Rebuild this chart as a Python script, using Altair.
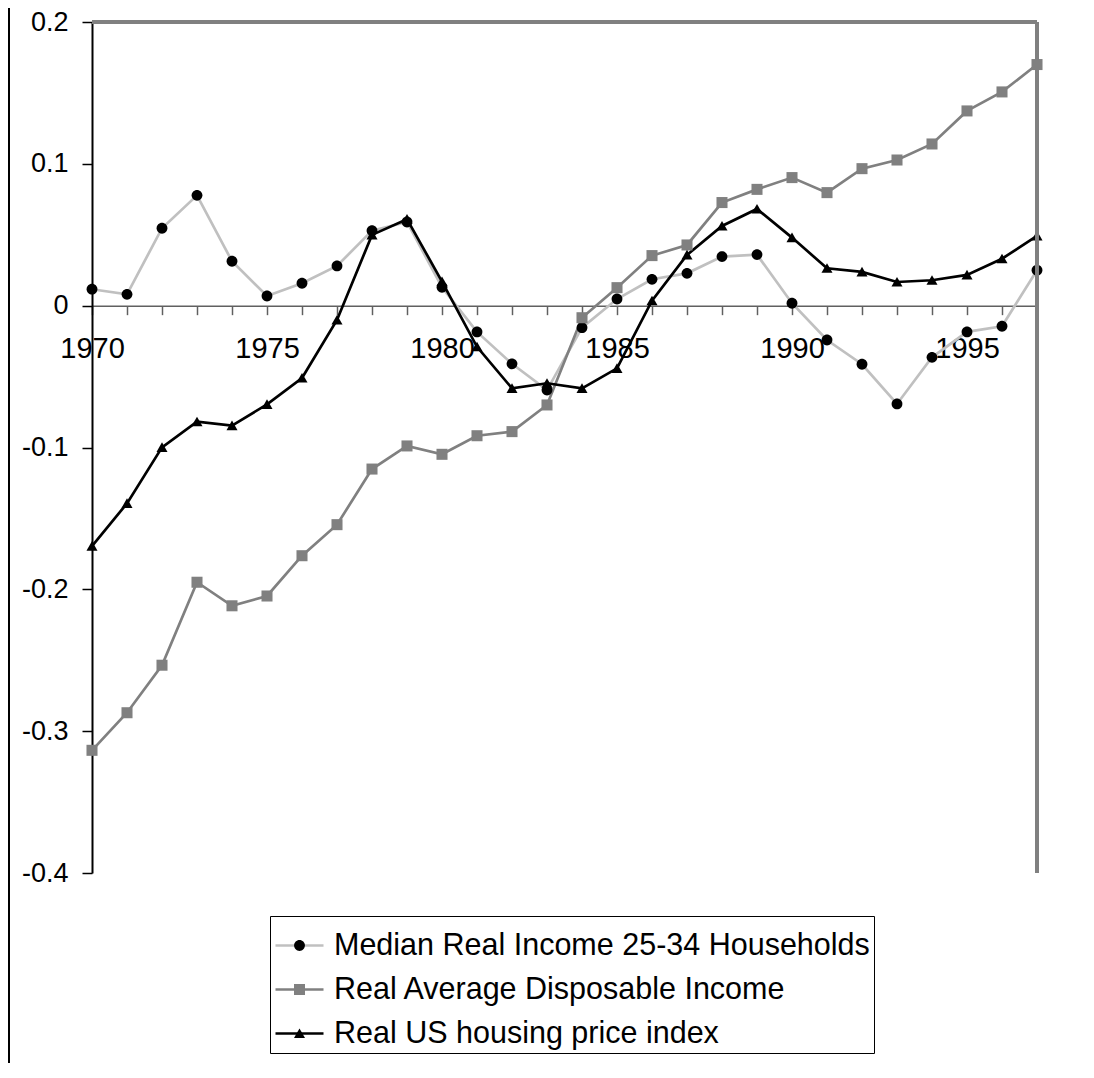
import altair as alt
import pandas as pd

# ---- data ----
years = list(range(1970, 1998))
series_names = [
    "Median Real Income 25-34 Households",
    "Real Average Disposable Income",
    "Real US housing price index",
]
median_income = [0.0116, 0.008, 0.0546, 0.0778, 0.0313, 0.0068, 0.0158, 0.028,
                 0.0529, 0.059, 0.013, -0.0185, -0.041, -0.0595, -0.0155, 0.0047,
                 0.0186, 0.0228, 0.0346, 0.036, 0.0017, -0.0242, -0.0413, -0.0693,
                 -0.0364, -0.0185, -0.0145, 0.025]
disposable_income = [-0.3135, -0.287, -0.2535, -0.195, -0.2116, -0.2047, -0.1763,
                     -0.1544, -0.1152, -0.0989, -0.1048, -0.0917, -0.0888, -0.070,
                     -0.0085, 0.0127, 0.0353, 0.0428, 0.0727, 0.082, 0.0903, 0.0797,
                     0.0966, 0.1027, 0.114, 0.1373, 0.1507, 0.170]
housing_index = [-0.1695, -0.1394, -0.0999, -0.0818, -0.0846, -0.0696, -0.051,
                 -0.0101, 0.0499, 0.061, 0.017, -0.029, -0.0583, -0.0547, -0.0583,
                 -0.0442, 0.0035, 0.0358, 0.0562, 0.0682, 0.048, 0.0264, 0.0238,
                 0.0167, 0.0179, 0.0217, 0.0331, 0.0492]
y_ticks = [-0.4, -0.3, -0.2, -0.1, 0.0, 0.1, 0.2]

rows = []
for name, vals in zip(series_names, [median_income, disposable_income, housing_index]):
    for yr, v in zip(years, vals):
        rows.append({"year": yr, "value": v, "series": name})
df = pd.DataFrame(rows)

# ---- styling ----
W, H = 945, 851
Y_MIN, Y_MAX = -0.4, 0.2
zero_offset = -H * (0 - Y_MIN) / (Y_MAX - Y_MIN)   # move x axis up to the zero line
FONT = "Liberation Sans"
line_colors = ["#c0c0c0", "#808080", "#000000"]
marker_fills = ["#000000", "#808080", "#000000"]
SYM = 2304  # symbol size shared by markers and legend symbols (48 px unit box)
marker_paths = [
    "M0.225,0A0.225,0.225,0,1,1,-0.225,0A0.225,0.225,0,1,1,0.225,0Z",
    "M-0.23,-0.23H0.23V0.23H-0.23Z",
    "M0,-0.21L0.23,0.19H-0.23Z",
]

x_scale = alt.Scale(domain=[1970, 1997], nice=False, zero=False)
y_scale = alt.Scale(domain=[Y_MIN, Y_MAX], nice=False, zero=False)

x_axis = alt.Axis(
    values=years, title=None, grid=False, offset=zero_offset,
    labelExpr="datum.value % 5 == 0 ? '' + datum.value : ''",
    labelFont=FONT, labelFontSize=29, labelColor="black",
    labelPadding=20, labelFlush=False, labelOverlap=False, labelBound=False,
    tickSize=9, tickColor="#606060", tickWidth=1.5,
    domainColor="#606060", domainWidth=1.5,
)
y_axis = alt.Axis(
    values=y_ticks, title=None, grid=False,
    labelExpr="'' + round(datum.value * 10) / 10",
    labelFont=FONT, labelFontSize=27, labelColor="black",
    labelPadding=14, labelOverlap=False,
    tickSize=10, tickColor="black", tickWidth=1.5,
    domainColor="black", domainWidth=2,
)

legend_common = dict(
    orient="none", legendX=178, legendY=894, title=None, direction="vertical",
    labelFont=FONT, labelFontSize=30.5, labelLimit=1000, labelOffset=9,
    symbolSize=SYM, symbolStrokeWidth=2.5, padding=4, rowPadding=3,
)

base = alt.Chart(df)

lines = base.mark_line(strokeWidth=2.7).encode(
    x=alt.X("year:Q", scale=x_scale, axis=x_axis),
    y=alt.Y("value:Q", scale=y_scale, axis=y_axis),
    color=alt.Color(
        "series:N",
        scale=alt.Scale(range=line_colors),
        legend=alt.Legend(symbolType="stroke", strokeColor="black",
                          labelColor="black", **legend_common),
    ),
)

marker_legend = alt.Legend(labelColor="black", labelOpacity=0,
                           symbolStrokeColor="transparent", **legend_common)
points = base.transform_calculate(series_m="datum.series").mark_point(
    filled=True, size=SYM, opacity=1
).encode(
    x=alt.X("year:Q", scale=x_scale, axis=x_axis),
    y=alt.Y("value:Q", scale=y_scale, axis=y_axis),
    shape=alt.Shape("series_m:N", scale=alt.Scale(range=marker_paths), legend=marker_legend),
    fill=alt.Fill("series_m:N", scale=alt.Scale(range=marker_fills), legend=marker_legend),
)

top_border = alt.Chart(df).mark_rule(color="#808080", strokeWidth=2.5).encode(
    y=alt.YDatum(Y_MAX, scale=y_scale, axis=y_axis)
)
right_border = alt.Chart(df).mark_rule(color="#808080", strokeWidth=2.5).encode(
    x=alt.XDatum(1997, scale=x_scale, axis=x_axis)
)
page_border = alt.Chart(df).mark_rule(color="black", strokeWidth=1.5).encode(
    x=alt.value(-83), y=alt.value(-14), y2=alt.value(1050)
)

chart = alt.layer(lines, points, top_border, right_border, page_border).properties(
    width=W, height=H,
    autosize=alt.AutoSizeParams(type="none"),
    padding={"left": 84, "top": 14, "right": 40, "bottom": 190},
    background="white",
).configure_view(stroke=None)

chart.save("out.html", embed_options={"renderer": "svg", "actions": False})
